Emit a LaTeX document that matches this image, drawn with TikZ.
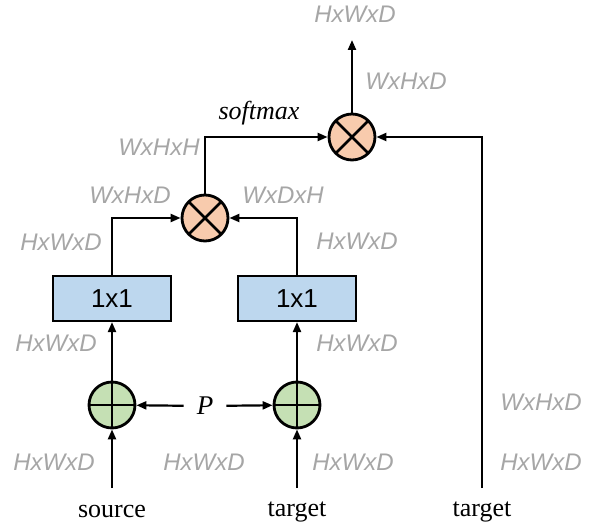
\documentclass[tikz,border=0pt]{standalone}
\usepackage{fontspec}
\setmainfont{Liberation Serif}
\newfontfamily\labelfont{Liberation Sans}
\usetikzlibrary{arrows.meta}
\definecolor{dimgray}{HTML}{A6A6A6}
\definecolor{mulfill}{HTML}{F8CBAD}
\definecolor{addfill}{HTML}{C5E0B4}
\definecolor{convfill}{HTML}{BDD7EE}
\tikzset{
  arr/.style={line width=2.2pt, -{Triangle[length=10pt,width=8pt]}},
  xcirc/.style={circle, draw, line width=2.8pt, fill=mulfill, minimum size=46pt, inner sep=0pt,
    path picture={\draw[line width=2.6pt] (path picture bounding box.north west) -- (path picture bounding box.south east)
      (path picture bounding box.north east) -- (path picture bounding box.south west);}},
  pcirc/.style={circle, draw, line width=2.8pt, fill=addfill, minimum size=46pt, inner sep=0pt,
    path picture={\draw[line width=2.6pt] (path picture bounding box.north) -- (path picture bounding box.south)
      (path picture bounding box.east) -- (path picture bounding box.west);}},
  conv/.style={draw, line width=2.2pt, fill=convfill, minimum width=118pt, minimum height=45pt, inner sep=0pt,
    font=\labelfont\fontsize{26}{30}\selectfont},
  dim/.style={text=dimgray, inner sep=0pt, font=\labelfont\itshape\fontsize{24}{28}\selectfont},
  word/.style={inner sep=0pt, font=\fontsize{26}{30}\selectfont},
}
\begin{document}
\begin{tikzpicture}[x=1pt,y=-1pt]
\useasboundingbox (0,0) rectangle (592,529);

% operators and convolutions
\node[xcirc] (m1) at (205,218) {};
\node[xcirc] (m2) at (352,137) {};
\node[pcirc] (a1) at (112,405) {};
\node[pcirc] (a2) at (297,405) {};
\node[conv] (c1) at (112,298.5) {1x1};
\node[conv] (c2) at (297,298.5) {1x1};

% inputs
\node[word] (src) at (112,512) {source};
\node[word] (tg1) at (297,512) {target};
\node[word] (tg2) at (482,512) {target};
\coordinate (s0) at (112,488);
\coordinate (t0) at (297,488);
\coordinate (t3) at (482,488);
\coordinate (out) at (352,40);

\node[word, inner xsep=13pt, font=\itshape\fontsize{27}{31}\selectfont] (P) at (205,406) {P};
\node[word, font=\itshape\fontsize{26}{30}\selectfont] (sm) at (259,113) {softmax};

% connectors
\draw[arr] (s0) -- (a1);
\draw[arr] (t0) -- (a2);
\draw[arr] (P) -- (a1);
\draw[arr] (P) -- (a2);
\draw[arr] (a1) -- (c1);
\draw[arr] (a2) -- (c2);
\draw[arr] (c1) |- (m1);
\draw[arr] (c2) |- (m1);
\draw[arr] (m1) |- (m2);
\draw[arr] (t3) |- (m2);
\draw[arr] (m2) -- (out);

% tensor shapes
\node[dim] (d1) at (355,14) {HxWxD};
\node[dim] (d2) at (406,81) {WxHxD};
\node[dim] (d3) at (159,147) {WxHxH};
\node[dim] (d4) at (130,195) {WxHxD};
\node[dim] (d5) at (283,195) {WxDxH};
\node[dim] (d6) at (61,242) {HxWxD};
\node[dim] (d7) at (357,241) {HxWxD};
\node[dim] (d8) at (56,343) {HxWxD};
\node[dim] (d9) at (357,343) {HxWxD};
\node[dim] (d10) at (541,402) {WxHxD};
\node[dim] (d11) at (54,462) {HxWxD};
\node[dim] (d12) at (204,462) {HxWxD};
\node[dim] (d13) at (353,462) {HxWxD};
\node[dim] (d14) at (541,462) {HxWxD};
\end{tikzpicture}
\end{document}
